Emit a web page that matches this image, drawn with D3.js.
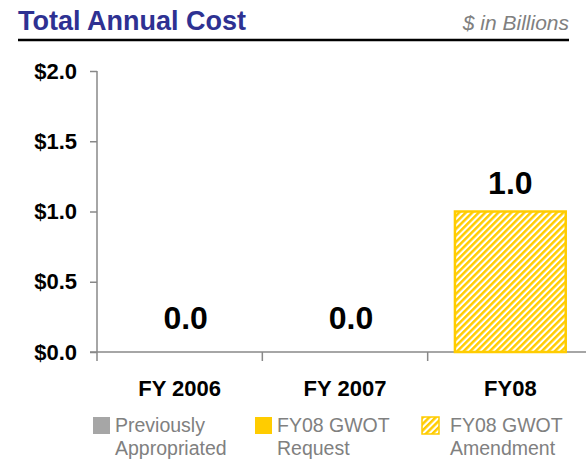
<!DOCTYPE html>
<html>
<head>
<meta charset="utf-8">
<script src="https://cdn.jsdelivr.net/npm/d3@7"></script>
<style>
  html, body { margin: 0; padding: 0; background: #fff; }
  svg { display: block; font-family: "Liberation Sans", Arial, Helvetica, sans-serif; }
</style>
</head>
<body>
<svg id="chart" width="586" height="461"></svg>
<script>
// Fiscal years shown on the x axis
const categories = ["FY 2006", "FY 2007", "FY08"];
// Series values, $ in billions
const previouslyAppropriated = [0, 0, 0];
const gwotRequest = [0, 0, 0];
const gwotAmendment = [0, 0, 1.0];
// Totals printed above each column
const totals = [0.0, 0.0, 1.0];
// Y axis ticks
const yTicks = [0, 0.5, 1.0, 1.5, 2.0];
// Legend entries
const legendLabels = [["Previously", "Appropriated"], ["FY08 GWOT", "Request"], ["FY08 GWOT", "Amendment"]];

const svg = d3.select("#chart");
const defs = svg.append("defs");

// Diagonal yellow hatch for the amendment series
const pat = defs.append("pattern")
  .attr("id", "hatch")
  .attr("patternUnits", "userSpaceOnUse")
  .attr("width", 4.6).attr("height", 4.6)
  .attr("patternTransform", "rotate(45)");
pat.append("rect").attr("width", 4.6).attr("height", 4.6).attr("fill", "#fff");
pat.append("rect").attr("width", 2.5).attr("height", 4.6).attr("fill", "#ffcc00");

const colors = { prev: "#a6a6a6", req: "#ffcc00", amend: "url(#hatch)" };

// Header
svg.append("text")
  .attr("x", 18).attr("y", 30)
  .attr("font-size", 27).attr("font-weight", "bold")
  .attr("fill", "#2e3192")
  .text("Total Annual Cost");
svg.append("text")
  .attr("x", 569).attr("y", 30)
  .attr("text-anchor", "end")
  .attr("font-size", 21).attr("font-style", "italic")
  .attr("fill", "#808080")
  .text("$ in Billions");
svg.append("line")
  .attr("x1", 18).attr("x2", 569)
  .attr("y1", 40).attr("y2", 40)
  .attr("stroke", "#000").attr("stroke-width", 2.5);

// Scales
const x = d3.scaleBand().domain(categories).range([97, 593]).paddingInner(0).paddingOuter(0);
const y = d3.scaleLinear().domain([0, 2]).range([352, 71]);
const barW = x.bandwidth() * 0.67;

// Y axis
const yAxis = d3.axisLeft(y).tickValues(yTicks).tickSize(7).tickPadding(13)
  .tickFormat(d => "$" + d3.format(".1f")(d));
const yg = svg.append("g").attr("transform", "translate(97,0)").call(yAxis);
yg.select(".domain").attr("stroke", "#888").attr("stroke-width", 1.5).attr("d", "M0,71V361");
yg.selectAll(".tick line").attr("stroke", "#888").attr("stroke-width", 1.5);
yg.selectAll(".tick text")
  .attr("font-size", 22).attr("font-weight", "bold").attr("fill", "#000")
  .attr("font-family", "Liberation Sans, Arial, sans-serif");

// X axis: baseline with ticks at category boundaries
const xg = svg.append("g");
xg.append("line")
  .attr("x1", 90).attr("x2", 586)
  .attr("y1", y(0)).attr("y2", y(0))
  .attr("stroke", "#888").attr("stroke-width", 1.5);
xg.selectAll("line.bnd")
  .data(categories.slice(1))
  .join("line")
  .attr("class", "bnd")
  .attr("x1", d => x(d)).attr("x2", d => x(d))
  .attr("y1", y(0)).attr("y2", y(0) + 9)
  .attr("stroke", "#888").attr("stroke-width", 1.5);
xg.selectAll("text")
  .data(categories)
  .join("text")
  .attr("x", d => x(d) + x.bandwidth() / 2)
  .attr("y", 396)
  .attr("text-anchor", "middle")
  .attr("font-size", 22).attr("font-weight", "bold")
  .attr("fill", "#000")
  .text(d => d);

// Stacked columns
const rows = categories.map((c, i) => ({
  cat: c, prev: previouslyAppropriated[i], req: gwotRequest[i], amend: gwotAmendment[i]
}));
const stack = d3.stack().keys(["prev", "req", "amend"])(rows);
const bars = svg.append("g");
stack.forEach(layer => {
  bars.selectAll(null)
    .data(layer.filter(d => d[1] - d[0] > 0))
    .join("rect")
    .attr("x", d => x(d.data.cat) + (x.bandwidth() - barW) / 2)
    .attr("y", d => y(d[1]))
    .attr("width", barW)
    .attr("height", d => y(d[0]) - y(d[1]))
    .attr("fill", colors[layer.key])
    .attr("stroke", "#ffcc00")
    .attr("stroke-width", 2.5);
});

// Total labels
svg.append("g").selectAll("text")
  .data(totals)
  .join("text")
  .attr("x", (d, i) => x(categories[i]) + x.bandwidth() / 2 + (d > 0 ? 0 : 6))
  .attr("y", (d, i) => d > 0 ? y(d) - 18 : 329)
  .attr("text-anchor", "middle")
  .attr("font-size", 32).attr("font-weight", "bold")
  .attr("fill", "#000")
  .text(d => d3.format(".1f")(d));

// Legend: swatch plus a two-line label
const legendX = [93, 255, 422];
const swatches = [colors.prev, colors.req, colors.amend];
const lg = svg.append("g");
legendLabels.forEach((lines, i) => {
  const g = lg.append("g").attr("transform", `translate(${legendX[i]},0)`);
  g.append("rect")
    .attr("x", 0).attr("y", 417)
    .attr("width", 17).attr("height", 17)
    .attr("fill", swatches[i])
    .attr("stroke", i === 2 ? "#ffcc00" : "none")
    .attr("stroke-width", i === 2 ? 1.5 : 0);
  const tx = i === 2 ? 28 : 22;
  const t = g.append("text")
    .attr("x", tx).attr("y", 432)
    .attr("font-size", 19.5)
    .attr("fill", "#808080");
  lines.forEach((s, j) => {
    t.append("tspan")
      .attr("x", tx)
      .attr("dy", j === 0 ? 0 : 22.5)
      .text(s);
  });
});
</script>
</body>
</html>
